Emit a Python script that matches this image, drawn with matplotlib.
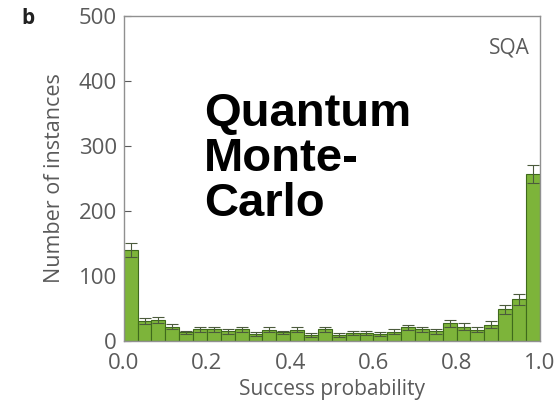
import numpy as np
import matplotlib
matplotlib.use('Agg')
import matplotlib.pyplot as plt

# Histogram of success probabilities (30 bins over [0, 1])
counts = [140, 31, 32, 22, 13, 18, 18, 15, 18, 10, 17, 13, 17, 9, 18,
          9, 12, 12, 11, 14, 21, 18, 15, 27, 22, 17, 25, 49, 64, 257]
errors = [11, 5, 5, 4, 3, 4, 4, 4, 4, 3, 4, 3, 4, 3, 4,
          3, 3, 3, 3, 4, 4, 4, 4, 5, 5, 4, 5, 7, 8, 14]
x_ticks = [0.0, 0.2, 0.4, 0.6, 0.8, 1.0]
y_ticks = [0, 100, 200, 300, 400, 500]

n_bins = len(counts)
edges = np.linspace(0, 1, n_bins + 1)
centers = (edges[:-1] + edges[1:]) / 2
width = edges[1] - edges[0]

grey = '#5a5a5a'
plt.rcParams['font.family'] = ['Open Sans', 'DejaVu Sans']

fig = plt.figure(figsize=(5.6, 4.03), dpi=100)
ax = fig.add_axes([0.221, 0.154, 0.743, 0.806])

ax.bar(centers, counts, width=width, color='#7db43a', edgecolor='#3f6a1c',
       linewidth=0.8, zorder=2)
ax.errorbar(centers, counts, yerr=errors, fmt='none', ecolor='#4b5b3c',
            elinewidth=0.8, capsize=4, capthick=0.8, zorder=3)

ax.set_xlim(0, 1)
ax.set_ylim(0, 500)
ax.set_xticks(x_ticks)
ax.set_yticks(y_ticks)
ax.set_xticklabels(['%.1f' % t for t in x_ticks])
ax.tick_params(axis='y', direction='in', length=5, color=grey, labelcolor=grey,
               labelsize=16, pad=5)
ax.tick_params(axis='x', length=0, labelcolor=grey, labelsize=16, pad=9)
for s in ax.spines.values():
    s.set_color('#909090')
    s.set_linewidth(1.0)

ax.set_xlabel('Success probability', color=grey, fontsize=15, labelpad=3)
ax.set_ylabel('Number of instances', color=grey, fontsize=15.5, labelpad=10)

ax.text(0.976, 0.935, 'SQA', transform=ax.transAxes, ha='right', va='top',
        color=grey, fontsize=15)
fig.text(0.05, 0.98, 'b', fontweight='bold', fontsize=15, ha='center', va='top',
         color='#222222')

ax.text(0.193, 0.765, 'Quantum\nMonte-\nCarlo', transform=ax.transAxes,
        family='Liberation Sans', fontweight='bold', fontsize=34,
        ha='left', va='top', linespacing=1.02, color='black', zorder=5)

fig.savefig('out.png', dpi=100)
